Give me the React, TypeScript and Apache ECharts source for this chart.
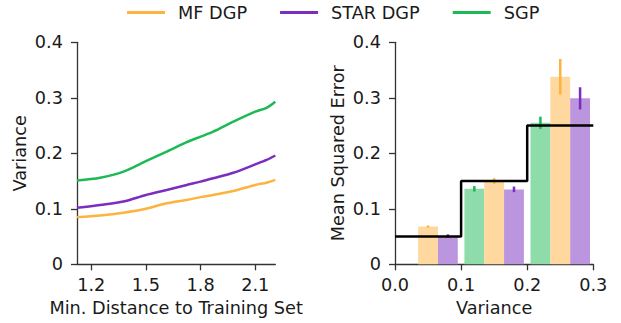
import React, { useEffect, useRef } from 'react';
import * as echarts from 'echarts';

// ---- Data ----
const seriesNames = ['MF DGP', 'STAR DGP', 'SGP'];
const lineColors = ['#FDB33F', '#7B2DBF', '#1DB954'];
const barColors = ['#FED89E', '#BB95DE', '#8EDCAA'];

// Left panel: variance vs min. distance to training set
const distX = [1.122, 1.249, 1.377, 1.5, 1.614, 1.724, 1.8, 1.869, 1.98, 2.1, 2.162, 2.21];
const mfVar = [0.085, 0.088, 0.093, 0.1, 0.11, 0.116, 0.121, 0.125, 0.132, 0.143, 0.147, 0.152];
const starVar = [0.102, 0.107, 0.113, 0.125, 0.134, 0.143, 0.149, 0.155, 0.165, 0.18, 0.188, 0.196];
const sgpVar = [0.151, 0.156, 0.167, 0.186, 0.203, 0.22, 0.23, 0.239, 0.257, 0.275, 0.282, 0.293];
const distTicks = [1.2, 1.5, 1.8, 2.1];

// Right panel: MSE per variance bin
const binEdges = [0, 0.1, 0.2, 0.3];
const binCenters = [0.05, 0.15, 0.25];
const trueVariance = [0.05, 0.15, 0.25];
const mfMSE = [0.068, 0.15, 0.338];
const mfErr = [0.002, 0.005, 0.032];
const starMSE = [0.051, 0.135, 0.299];
const starErr = [0.003, 0.005, 0.02];
const sgpMSE = [null, 0.136, 0.255];
const sgpErr = [null, 0.005, 0.011];

const BAR_W = 0.03;
const offsets = [0, 0.03, -0.03]; // MF center, STAR right, SGP left
const FONT = 'DejaVu Sans';
const FS = 17.7;
const TXT = '#1a1a1a';
const AX = '#333333';

export default function App() {
  const ref = useRef<HTMLDivElement>(null);
  useEffect(() => {
    document.body.style.margin = '0';
    const chart = echarts.init(ref.current!, null, { renderer: 'svg' });

    const fmtY = (v: number) => (v === 0 ? '0' : v.toFixed(1));
    const axisCommon = {
      axisLine: { show: true, lineStyle: { color: AX, width: 1.3 } },
      axisTick: { show: true, length: 6, lineStyle: { color: AX, width: 1.3 } },
      splitLine: { show: false },
      nameTextStyle: { fontFamily: FONT, fontSize: FS, color: TXT, lineHeight: FS },
    };
    const labelCommon = { fontFamily: FONT, fontSize: FS, color: TXT, lineHeight: FS };

    const mses = [mfMSE, starMSE, sgpMSE];
    const errs = [mfErr, starErr, sgpErr];

    const barSeries: any[] = [];
    const errSeries: any[] = [];
    [2, 0, 1].forEach((k) => {
      const data: number[][] = [];
      binCenters.forEach((c, i) => {
        const v = mses[k][i];
        if (v !== null && v !== undefined) data.push([c + offsets[k], v as number, errs[k][i] as number]);
      });
      barSeries.push({
        type: 'custom',
        name: seriesNames[k] + ' bars',
        xAxisIndex: 1,
        yAxisIndex: 1,
        z: 2,
        data,
        renderItem: (params: any, api: any) => {
          const x = api.value(0);
          const y = api.value(1);
          const p0 = api.coord([x - BAR_W / 2, y]);
          const p1 = api.coord([x + BAR_W / 2, 0]);
          return {
            type: 'rect',
            shape: { x: p0[0], y: p0[1], width: p1[0] - p0[0], height: p1[1] - p0[1] },
            style: { fill: barColors[k] },
          };
        },
      });
      errSeries.push({
        type: 'custom',
        name: seriesNames[k] + ' err',
        xAxisIndex: 1,
        yAxisIndex: 1,
        z: 3,
        data,
        renderItem: (params: any, api: any) => {
          const x = api.value(0);
          const y = api.value(1);
          const e = api.value(2);
          const a = api.coord([x, y - e]);
          const b = api.coord([x, y + e]);
          return {
            type: 'line',
            shape: { x1: a[0], y1: a[1], x2: b[0], y2: b[1] },
            style: { stroke: lineColors[k], lineWidth: 2.5 },
          };
        },
      });
    });

    const stepData: number[][] = [];
    trueVariance.forEach((v, i) => {
      stepData.push([binEdges[i], v]);
      stepData.push([binEdges[i + 1], v]);
    });

    const varSeries = [mfVar, starVar, sgpVar];

    chart.setOption({
      animation: false,
      backgroundColor: '#ffffff',
      textStyle: { fontFamily: FONT },
      legend: {
        data: seriesNames,
        left: 127,
        top: 3.5,
        padding: 0,
        itemWidth: 38,
        itemHeight: 3,
        itemGap: 33,
        icon: 'rect',
        textStyle: { fontFamily: FONT, fontSize: FS, color: TXT, lineHeight: FS, padding: [0, 0, 0, 8] },
      },
      grid: [
        { left: 77, top: 42.3, width: 198.3, height: 222 },
        { left: 395, top: 42.3, width: 198.3, height: 222 },
      ],
      xAxis: [
        {
          gridIndex: 0,
          type: 'value',
          min: 1.122,
          max: 2.21,
          name: 'Min. Distance to Training Set',
          nameLocation: 'middle',
          nameGap: 34,
          ...axisCommon,
          axisTick: { ...axisCommon.axisTick, customValues: distTicks },
          axisLabel: { ...labelCommon, margin: 12, customValues: distTicks, formatter: (v: number) => v.toFixed(1) },
        },
        {
          gridIndex: 1,
          type: 'value',
          min: 0,
          max: 0.3,
          interval: 0.1,
          name: 'Variance',
          nameLocation: 'middle',
          nameGap: 34,
          ...axisCommon,
          axisLabel: { ...labelCommon, margin: 12, formatter: (v: number) => v.toFixed(1) },
        },
      ],
      yAxis: [
        {
          gridIndex: 0,
          type: 'value',
          min: 0,
          max: 0.4,
          interval: 0.1,
          name: 'Variance',
          nameLocation: 'middle',
          nameGap: 48,
          nameRotate: 90,
          ...axisCommon,
          axisLabel: { ...labelCommon, margin: 14, formatter: fmtY },
        },
        {
          gridIndex: 1,
          type: 'value',
          min: 0,
          max: 0.4,
          interval: 0.1,
          name: 'Mean Squared Error',
          nameLocation: 'middle',
          nameGap: 48,
          nameRotate: 90,
          ...axisCommon,
          axisLabel: { ...labelCommon, margin: 14, formatter: fmtY },
        },
      ],
      series: [
        ...varSeries.map((vals, k) => ({
          type: 'line',
          name: seriesNames[k],
          xAxisIndex: 0,
          yAxisIndex: 0,
          data: distX.map((x, i) => [x, vals[i]]),
          showSymbol: false,
          symbol: 'none',
          smooth: 0.3,
          color: lineColors[k],
          lineStyle: { color: lineColors[k], width: 2.5 },
          z: 3,
        })),
        ...barSeries,
        ...errSeries,
        {
          type: 'line',
          name: 'true variance',
          xAxisIndex: 1,
          yAxisIndex: 1,
          data: stepData,
          showSymbol: false,
          symbol: 'none',
          lineStyle: { color: '#000000', width: 2.5 },
          z: 4,
        },
      ],
    });
    return () => chart.dispose();
  }, []);
  return <div ref={ref} style={{ position: 'fixed', left: 0, top: 0, width: 621, height: 323 }} />;
}
